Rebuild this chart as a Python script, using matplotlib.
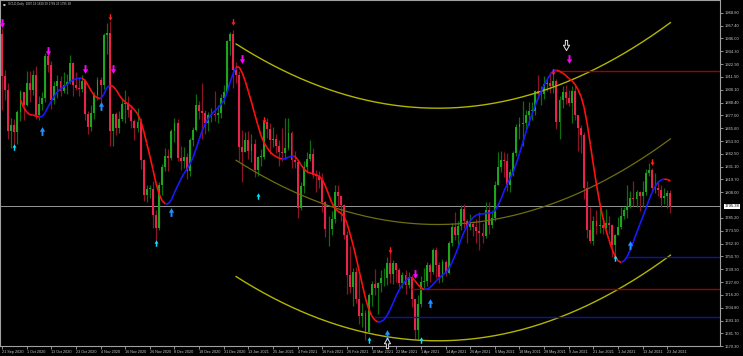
import numpy as np
import matplotlib
matplotlib.use("Agg")
import matplotlib.pyplot as plt
from matplotlib.collections import LineCollection
from matplotlib.path import Path

# GOLD daily bars, 21 Sep 2020 .. 26 Jul 2021 (bar 0 = 21 Sep 2020)
first_open = 1950.0
closes = [
    1912, 1900, 1863, 1868, 1862, 1880, 1898, 1886,  # Sep
    1906, 1900, 1913, 1877, 1887, 1893, 1930, 1922, 1891, 1903, 1908, 1899, 1904, 1907, 1924, 1904, 1902, 1901, 1908, 1878, 1867, 1879,  # Oct
    1895, 1909, 1904, 1949, 1951, 1863, 1878, 1866, 1874, 1887, 1888, 1882, 1872, 1866, 1871, 1837, 1806, 1811, 1811, 1788, 1776,  # Nov
    1815, 1831, 1841, 1839, 1863, 1870, 1839, 1836, 1840, 1827, 1855, 1864, 1886, 1881, 1879, 1870, 1877, 1878, 1877, 1879, 1893, 1898,  # Dec
    1944, 1950, 1918, 1913, 1849, 1844, 1855, 1845, 1851, 1828, 1840, 1840, 1871, 1865, 1855, 1856, 1850, 1844, 1843, 1848,  # Jan
    1861, 1837, 1835, 1794, 1814, 1831, 1838, 1842, 1824, 1823, 1819, 1799, 1775, 1775, 1784, 1808, 1805, 1797, 1770, 1734,  # Feb
    1723, 1737, 1712, 1697, 1700, 1683, 1716, 1726, 1722, 1727, 1731, 1731, 1745, 1735, 1745, 1738, 1727, 1734, 1725, 1732, 1712, 1685, 1708,  # Mar
    1728, 1729, 1743, 1737, 1756, 1743, 1732, 1746, 1736, 1763, 1777, 1770, 1778, 1793, 1782, 1777, 1780, 1777, 1773, 1772, 1769,  # Apr
    1792, 1779, 1785, 1815, 1831, 1837, 1836, 1815, 1826, 1843, 1867, 1869, 1870, 1877, 1881, 1881, 1899, 1896, 1896, 1905, 1906,  # May
    1903, 1908, 1871, 1891, 1898, 1893, 1888, 1899, 1877, 1866, 1859, 1812, 1774, 1764, 1782, 1778, 1779, 1776, 1781, 1779, 1761, 1770,  # Jun
    1777, 1787, 1792, 1796, 1803, 1802, 1808, 1805, 1808, 1825, 1828, 1812, 1812, 1810, 1803, 1805, 1807.19, 1795.38,  # Jul
]
highs = [
    1955, 1918, 1906, 1875, 1874, 1882, 1900, 1898,
    1917, 1917, 1918, 1921, 1894, 1898, 1933, 1933, 1926, 1908, 1913, 1912, 1916, 1914, 1931, 1925, 1916, 1911, 1913, 1910, 1881, 1886,
    1898, 1911, 1911, 1951, 1960, 1962, 1879, 1880, 1881, 1893, 1900, 1894, 1886, 1874, 1884, 1875, 1838, 1815, 1815, 1818, 1792,
    1817, 1833, 1848, 1847, 1865, 1875, 1874, 1850, 1849, 1843, 1857, 1867, 1896, 1890, 1906, 1882, 1880, 1884, 1899, 1886, 1896, 1904,
    1945, 1952, 1954, 1925, 1917, 1864, 1862, 1863, 1860, 1856, 1841, 1847, 1873, 1875, 1870, 1867, 1860, 1855, 1866, 1875,
    1875, 1863, 1845, 1837, 1817, 1836, 1844, 1855, 1848, 1828, 1827, 1825, 1800, 1787, 1791, 1815, 1815, 1806, 1798, 1773,
    1760, 1740, 1741, 1733, 1709, 1703, 1718, 1729, 1739, 1728, 1738, 1740, 1750, 1755, 1747, 1745, 1740, 1737, 1738, 1737, 1734, 1712, 1716,
    1733, 1740, 1746, 1745, 1758, 1759, 1746, 1748, 1747, 1764, 1781, 1790, 1782, 1797, 1798, 1784, 1789, 1782, 1784, 1790, 1781,
    1799, 1799, 1792, 1818, 1844, 1845, 1844, 1843, 1829, 1845, 1869, 1876, 1890, 1882, 1889, 1889, 1900, 1913, 1903, 1912, 1910,
    1916, 1914, 1910, 1894, 1903, 1904, 1900, 1903, 1904, 1877, 1868, 1862, 1818, 1795, 1787, 1792, 1795, 1786, 1793, 1787, 1780, 1771,
    1786, 1795, 1795, 1815, 1809, 1818, 1810, 1809, 1818, 1829, 1834, 1830, 1825, 1817, 1815, 1812, 1810, 1810.29,
]
lows = [
    1882, 1891, 1856, 1848, 1850, 1851, 1872, 1873,
    1885, 1889, 1895, 1874, 1873, 1882, 1889, 1916, 1883, 1887, 1893, 1894, 1897, 1896, 1905, 1894, 1900, 1894, 1898, 1873, 1860, 1863,
    1874, 1891, 1883, 1901, 1932, 1850, 1850, 1859, 1861, 1872, 1870, 1876, 1866, 1855, 1862, 1829, 1800, 1799, 1803, 1776, 1764,
    1774, 1806, 1827, 1827, 1837, 1853, 1836, 1828, 1830, 1820, 1823, 1850, 1863, 1874, 1856, 1860, 1863, 1871, 1872, 1870, 1875, 1887,
    1898, 1931, 1902, 1906, 1836, 1817, 1844, 1838, 1835, 1822, 1823, 1832, 1838, 1857, 1842, 1849, 1843, 1832, 1836, 1838,
    1846, 1830, 1830, 1785, 1792, 1807, 1827, 1836, 1821, 1808, 1812, 1790, 1768, 1760, 1770, 1781, 1795, 1782, 1766, 1717,
    1718, 1706, 1709, 1690, 1687, 1676, 1683, 1706, 1716, 1699, 1719, 1724, 1725, 1727, 1726, 1728, 1723, 1722, 1717, 1722, 1705, 1677, 1677,
    1705, 1721, 1724, 1728, 1735, 1731, 1727, 1728, 1733, 1735, 1760, 1765, 1761, 1774, 1776, 1763, 1774, 1769, 1763, 1756, 1763,
    1767, 1771, 1776, 1782, 1815, 1826, 1822, 1809, 1808, 1823, 1841, 1856, 1850, 1865, 1868, 1873, 1877, 1892, 1886, 1892, 1899,
    1897, 1897, 1865, 1856, 1884, 1887, 1885, 1870, 1873, 1845, 1843, 1802, 1767, 1763, 1761, 1771, 1772, 1771, 1772, 1771, 1750, 1752,
    1770, 1775, 1784, 1785, 1794, 1796, 1795, 1791, 1795, 1806, 1823, 1810, 1807, 1805, 1795, 1798, 1794, 1789.23,
]
# closes of the 25 bars before 21 Sep (off screen, only feed the moving average)
pre_closes = [1985, 2013, 1929, 1947, 1940, 1929, 1908, 1953, 1930, 1964, 1968, 1970, 1944,
              1930, 1934, 1933, 1930, 1947, 1945, 1940, 1956, 1954, 1960, 1944, 1950]

date_labels = ["21 Sep 2020", "1 Oct 2020", "13 Oct 2020", "23 Oct 2020", "4 Nov 2020", "16 Nov 2020",
               "26 Nov 2020", "8 Dec 2020", "18 Dec 2020", "31 Dec 2020", "13 Jan 2021", "25 Jan 2021",
               "4 Feb 2021", "16 Feb 2021", "26 Feb 2021", "10 Mar 2021", "22 Mar 2021", "1 Apr 2021",
               "14 Apr 2021", "26 Apr 2021", "6 May 2021", "18 May 2021", "28 May 2021", "9 Jun 2021",
               "21 Jun 2021", "1 Jul 2021", "13 Jul 2021", "23 Jul 2021"]
price_ticks = [1968.80, 1957.40, 1946.00, 1934.30, 1922.90, 1911.50, 1900.10, 1888.40, 1877.00,
               1865.60, 1853.90, 1842.50, 1831.10, 1819.70, 1808.00, 1785.20, 1773.50, 1762.10,
               1750.70, 1739.30, 1727.60, 1716.20, 1704.80, 1693.10, 1681.70, 1670.30]

# signal arrows: bars and prices
red_down_bars = [35, 75, 85, 126, 179, 211]
red_down_px = [1965, 1961, 1873, 1756, 1916, 1835]
magenta_bars = [0, 15, 27, 36, 78, 134, 184]
magenta_px = [1960, 1935, 1919, 1919, 1928, 1735, 1928]
cyan_bars = [4, 50, 83, 119, 136, 199]
cyan_px = [1849, 1763, 1805, 1676, 1676, 1749]
blue_bars = [13, 32, 55, 125, 139, 204]
blue_px = [1863, 1885, 1790, 1681, 1709, 1761]
white_down_bars, white_down_px = [183], [1940]
white_up_bars, white_up_px = [125], [1673]

# horizontal levels: (start bar, price, colour)
levels = [(179, 1917.0, "#a00000"), (133, 1721.0, "#a00000"),
          (203, 1750.0, "#1010b0"), (121, 1696.0, "#1010b0")]

hma_period = 28
reg_start = 76
last_price = closes[-1]

plt.rcParams["font.family"] = ["Liberation Sans", "DejaVu Sans"]

opens = [first_open] + closes[:-1]
n = len(closes)
x = np.arange(n)


def wma(vals, p):
    w = np.arange(1, p + 1)
    out = np.full(len(vals), np.nan)
    for i in range(p - 1, len(vals)):
        out[i] = np.dot(vals[i - p + 1:i + 1], w) / w.sum()
    return out


allc = np.array(pre_closes + closes, dtype=float)
raw = 2 * wma(allc, hma_period // 2) - wma(allc, hma_period)
hma = wma(raw, int(np.sqrt(hma_period)))
hx = np.arange(len(allc)) - len(pre_closes)

# arrow shaped markers
down_arrow = Path([(-0.22, 1), (0.22, 1), (0.22, 0.05), (0.6, 0.05), (0, -1), (-0.6, 0.05), (-0.22, 0.05), (-0.22, 1)],
                  [Path.MOVETO] + [Path.LINETO] * 6 + [Path.CLOSEPOLY])
up_arrow = Path([(vx, -vy) for vx, vy in down_arrow.vertices], down_arrow.codes)

fig = plt.figure(figsize=(7.43, 3.56), dpi=100, facecolor="black")
ax = fig.add_axes([0, 10 / 356, 720 / 743, 346 / 356])
ax.set_facecolor("black")

# candles
for i in range(n):
    up = closes[i] >= opens[i]
    body = "#1ea51e" if up else "#e8234c"
    wick = "#0d6e0d" if up else "#8c1428"
    ax.vlines(i, lows[i], highs[i], color=wick, lw=0.9, zorder=2)
    b0 = min(opens[i], closes[i])
    h = max(abs(closes[i] - opens[i]), 0.6)
    ax.bar(i, h, bottom=b0, width=0.62, color=body, lw=0, zorder=3)

# regression channel
rx = x[reg_start:]
ry = np.array(closes[reg_start:], dtype=float)
coef = np.polyfit(rx, ry, 2)
mid = np.polyval(coef, rx)
dev = np.std(ry - mid) * 2.0
ax.plot(rx, mid, color="#6e6e10", lw=0.9, zorder=4)
ax.plot(rx, mid + dev, color="#b4b400", lw=1.0, zorder=4)
ax.plot(rx, mid - dev, color="#b4b400", lw=1.0, zorder=4)

# levels
for b, p, c in levels:
    ax.plot([b, 240], [p, p], color=c, lw=1.0, zorder=4)

ax.axhline(last_price, color="#b0b0b0", lw=0.6, zorder=1)

# hull moving average, red falling / blue rising
ok = ~np.isnan(hma)
pts = np.column_stack([hx[ok], hma[ok]])
segs = np.stack([pts[:-1], pts[1:]], axis=1)
cols = ["#1a1aff" if d > 0 else "#ff1010" for d in np.diff(pts[:, 1])]
ax.add_collection(LineCollection(segs, colors=cols, linewidths=1.2, zorder=5))

# arrows
ax.scatter(red_down_bars, red_down_px, marker=down_arrow, s=22, color="#ff2020", lw=0, zorder=6)
ax.scatter(magenta_bars, magenta_px, marker=down_arrow, s=40, color="#ff00ff", lw=0, zorder=6)
ax.scatter(cyan_bars, cyan_px, marker=up_arrow, s=22, color="#00e5ff", lw=0, zorder=6)
ax.scatter(blue_bars, blue_px, marker=up_arrow, s=40, color="#1e90ff", lw=0, zorder=6)
ax.scatter(white_down_bars, white_down_px, marker=down_arrow, s=55, facecolor="black",
           edgecolor="#e8e8e8", lw=0.7, zorder=6)
ax.scatter(white_up_bars, white_up_px, marker=up_arrow, s=55, facecolor="black",
           edgecolor="#e8e8e8", lw=0.7, zorder=6, clip_on=False)

ax.set_xlim(-0.65, 233.1)
ax.set_ylim(1670.3, 1980.45)

ax.yaxis.tick_right()
ax.set_yticks(price_ticks)
ax.set_yticklabels([f"{v:.2f}" for v in price_ticks])
ax.set_xticks(np.arange(len(date_labels)) * 8)
ax.set_xticklabels(date_labels, ha="left")
ax.tick_params(axis="y", colors="#c8c8c8", labelsize=3.0, length=2, width=0.5, pad=1.5)
ax.tick_params(axis="x", colors="#c8c8c8", labelsize=2.7, length=2, width=0.5, pad=1)
for s in ax.spines.values():
    s.set_color("#a0a0a0")
    s.set_linewidth(0.8)

ax.text(1.006, last_price, f"{last_price:.2f}", transform=ax.get_yaxis_transform(),
        fontsize=3.0, color="black", va="center", ha="left",
        bbox=dict(boxstyle="square,pad=0.15", fc="white", ec="none"), clip_on=False)

ax.text(0.003, 0.988, "\u25AA", transform=ax.transAxes, color="#c8c8c8", fontsize=3.0, va="center",
        family="DejaVu Sans")
ax.text(0.011, 0.988, "GOLD,Daily  1807.19 1810.29 1789.23 1795.38", transform=ax.transAxes,
        color="#c8c8c8", fontsize=2.2, va="center", ha="left")

fig.savefig("out.png", dpi=100, facecolor="black")
